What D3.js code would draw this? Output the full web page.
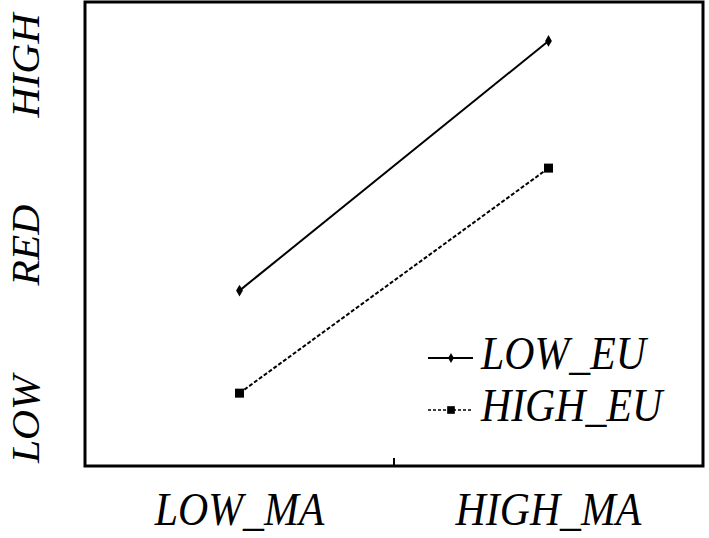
<!DOCTYPE html>
<html><head><meta charset="utf-8">
<script src="https://cdn.jsdelivr.net/npm/d3@7"></script>
<style>body{margin:0;background:#fff}svg{display:block}</style>
</head><body>
<svg id="c" width="709" height="538"></svg>
<script>
const categories = ["LOW_MA", "HIGH_MA"];
const seriesNames = ["LOW_EU", "HIGH_EU"];
const lowEU = [3.78, 9.16];
const highEU = [1.57, 6.42];
const yTickLabels = ["LOW", "RED", "HIGH"];
const yTickValues = [1.01, 4.76, 8.63];

const svg = d3.select("#c");
const L = 85, R = 703, T = 2, B = 466;
const font = "Liberation Serif, Times New Roman, serif";
const x = d3.scalePoint().domain(categories).range([L, R]).padding(0.5);
const y = d3.scaleLinear().domain([0, 10]).range([B, T]);

// frame
svg.append("rect").attr("x", L).attr("y", T).attr("width", R - L).attr("height", B - T)
  .attr("fill", "none").attr("stroke", "#000").attr("stroke-width", 3);
// center tick
svg.append("line").attr("x1", (L + R) / 2).attr("x2", (L + R) / 2).attr("y1", B).attr("y2", B - 8)
  .attr("stroke", "#000").attr("stroke-width", 2);

// x labels
svg.selectAll("text.xl").data(categories).enter().append("text")
  .attr("transform", d => `translate(${x(d)},525) scale(1.02,1.12)`).attr("text-anchor", "middle")
  .attr("font-family", font).attr("font-style", "italic").attr("font-size", 41).text(d => d);

// y labels
svg.selectAll("text.yl").data(yTickLabels).enter().append("text")
  .attr("transform", (d, i) => `translate(39,${y(yTickValues[i])}) rotate(-90) scale(1.04,1.02)`)
  .attr("text-anchor", "middle")
  .attr("font-family", font).attr("font-style", "italic").attr("font-size", 40).text(d => d);

const series = [
  {name: seriesNames[0], values: lowEU, dash: null, marker: "diamond"},
  {name: seriesNames[1], values: highEU, dash: "4,2", marker: "square"}
];
const line = d3.line().x((d, i) => x(categories[i])).y(d => y(d));
function marker(g, type, cx, cy, s) {
  if (type === "diamond") {
    g.append("path").attr("d", d3.symbol(d3.symbolDiamond, 40 * s * s)()).attr("transform", `translate(${cx},${cy})`).attr("fill", "#000");
  } else {
    g.append("rect").attr("x", cx - 4.5 * s).attr("y", cy - 4.5 * s).attr("width", 9 * s).attr("height", 9 * s).attr("fill", "#000");
  }
}
series.forEach(s => {
  svg.append("path").datum(s.values).attr("d", line).attr("fill", "none")
    .attr("stroke", "#000").attr("stroke-width", 2).attr("stroke-dasharray", s.dash);
  s.values.forEach((v, i) => marker(svg, s.marker, x(categories[i]), y(v), 1));
});

// legend
const legY = [358, 410];
series.forEach((s, i) => {
  svg.append("line").attr("x1", 428).attr("x2", 473).attr("y1", legY[i]).attr("y2", legY[i])
    .attr("stroke", "#000").attr("stroke-width", s.dash ? 1.5 : 2.2).attr("stroke-dasharray", s.dash ? "3,2" : null);
  marker(svg, s.marker, 451, legY[i], 0.85);
  svg.append("text").attr("transform", `translate(481,${legY[i] + 11}) scale(1.02,1.12)`).attr("font-family", font)
    .attr("font-style", "italic").attr("font-size", 41).text(s.name);
});
</script>
</body></html>
